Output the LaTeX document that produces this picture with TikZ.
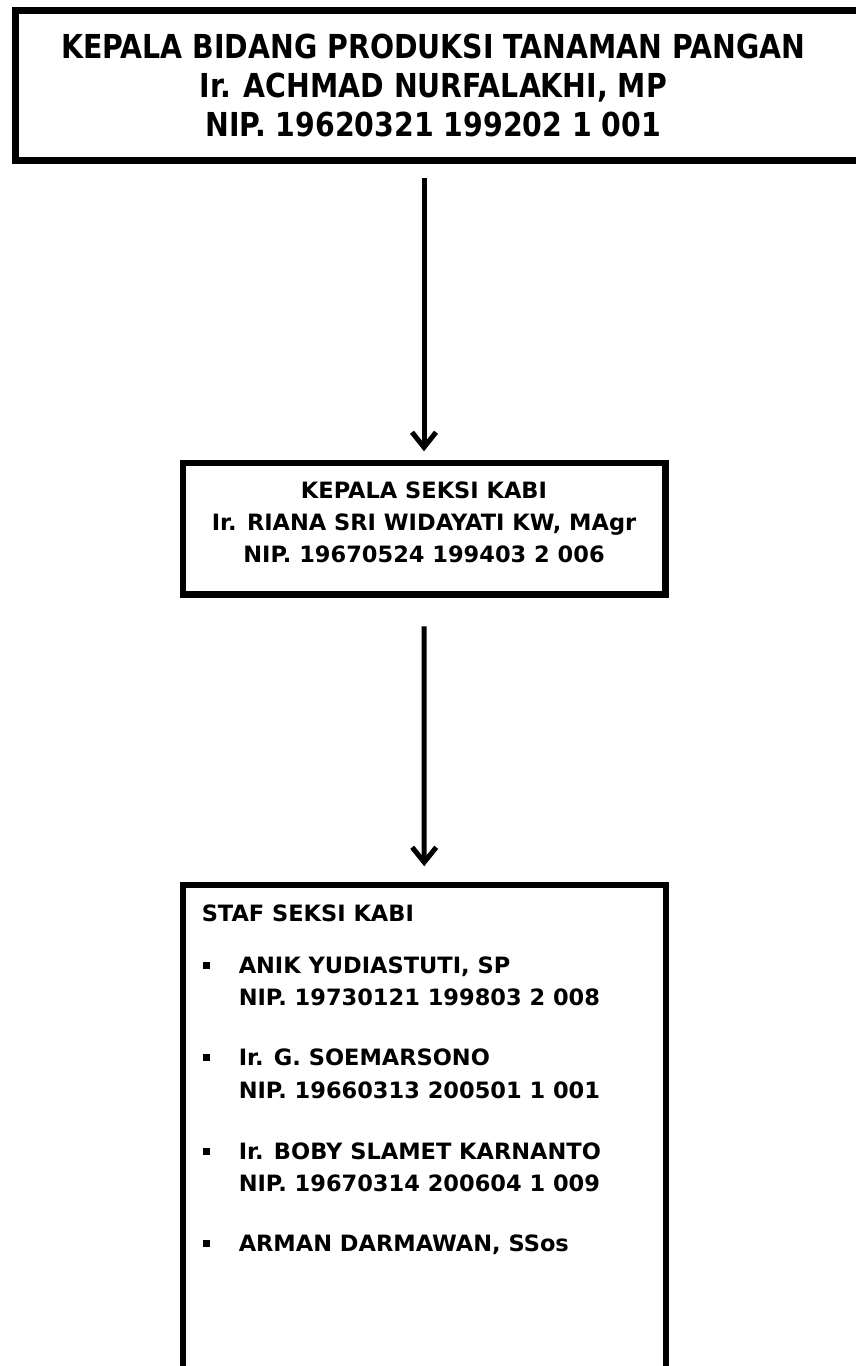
\documentclass[tikz,border=0pt]{standalone}
\usepackage{fontspec}
\setmainfont{DejaVu Sans}
\newfontfamily\titlefont[FakeStretch=0.86]{DejaVu Sans}
\usetikzlibrary{arrows.meta}
\setlength{\parskip}{0pt}
\setlength{\parindent}{0pt}
% square bullet of the staff list
\newcommand{\stafitem}{\makebox[37pt][l]{\hspace{1pt}\rule[4.5pt]{7pt}{7pt}}}

\tikzset{
  jabatan/.style={draw, line width=6.5pt, inner sep=0pt, anchor=north west},
  panah/.style={line width=5pt, -{Straight Barb[length=15pt,width=24pt]}},
}

\begin{document}
\begin{tikzpicture}[x=1pt, y=-1pt]
  \useasboundingbox (0,0) rectangle (855,1366);

  \node[jabatan] (kabid) at (12,7) {\begin{minipage}[t][150pt][t]{848pt}
      \titlefont\bfseries\fontsize{33}{39}\selectfont
      \centering\rightskip=12pt plus 1fil
      \rule{0pt}{48pt}KEPALA BIDANG PRODUKSI TANAMAN PANGAN\\
      Ir. ACHMAD NURFALAKHI, MP\\
      NIP. 19620321 199202 1 001
    \end{minipage}};

  \node[jabatan] (kasi) at (179.5,459.5) {\begin{minipage}[t][131.5pt][t]{482.5pt}
      \bfseries\fontsize{22.5}{32}\selectfont\centering
      \rule{0pt}{35.5pt}KEPALA SEKSI KABI\\
      Ir. RIANA SRI WIDAYATI KW, MAgr\\
      NIP. 19670524 199403 2 006
    \end{minipage}};

  \node[jabatan] (staf) at (179.5,881.5) {\begin{minipage}[t][500pt][t]{483pt}
      \bfseries\fontsize{22.5}{32.5}\selectfont\raggedright\leftskip=19pt
      \rule{0pt}{36.5pt}STAF SEKSI KABI\\[19.5pt]
      \stafitem ANIK YUDIASTUTI, SP\\
      \hspace*{37pt}NIP. 19730121 199803 2 008\\[27.5pt]
      \stafitem Ir. G. SOEMARSONO\\
      \hspace*{37pt}NIP. 19660313 200501 1 001\\[28.5pt]
      \stafitem Ir. BOBY SLAMET KARNANTO\\
      \hspace*{37pt}NIP. 19670314 200604 1 009\\[27.5pt]
      \stafitem ARMAN DARMAWAN, SSos
    \end{minipage}};

  % connectors
  \draw[panah, shorten <=14.75pt, shorten >=8.25pt] (kasi.north |- kabid.south) -- (kasi.north);
  \draw[panah, shorten <=28.75pt, shorten >=15.25pt] (kasi.south) -- (staf.north);
\end{tikzpicture}
\end{document}
